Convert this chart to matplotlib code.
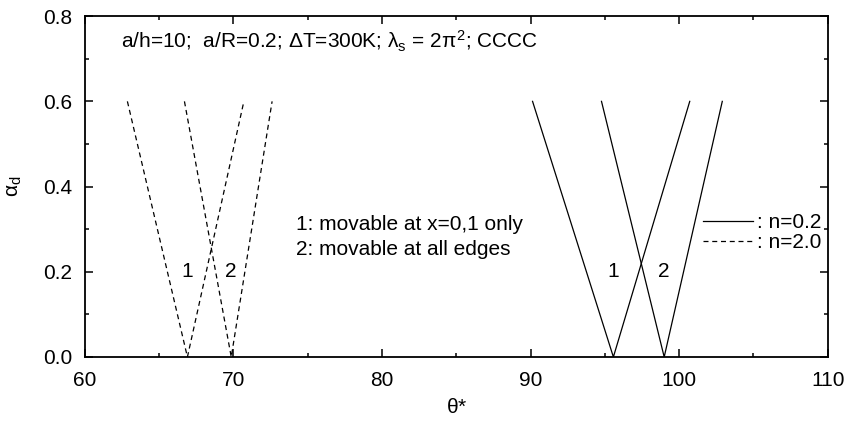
import numpy as np
import matplotlib
matplotlib.use('Agg')
import matplotlib.pyplot as plt
from matplotlib.ticker import MultipleLocator

plt.rcParams['font.family'] = ['Liberation Sans', 'DejaVu Sans']
plt.rcParams['mathtext.fontset'] = 'custom'
plt.rcParams['mathtext.rm'] = 'Liberation Sans'
plt.rcParams['mathtext.it'] = 'Liberation Sans'

# V-shaped curves: (theta at alpha=0.6, theta at alpha=0, theta at alpha=0.6)
alpha = [0.6, 0.0, 0.6]
n02_case1 = [90.13, 95.57, 100.71]
n02_case2 = [94.77, 98.99, 102.90]
n20_case1 = [62.86, 66.90, 70.70]
n20_case2 = [66.70, 69.85, 72.60]

fs = 15
fig = plt.figure(figsize=(8.49, 4.25), dpi=100)
ax = fig.add_axes([0.100, 0.160, 0.875, 0.802])

ax.plot(n02_case1, alpha, color='black', lw=0.9, label=': n=0.2')
ax.plot(n02_case2, alpha, color='black', lw=0.9)
ax.plot(n20_case1, alpha, color='black', lw=0.9, ls=(0, (4, 3)), label=': n=2.0')
ax.plot(n20_case2, alpha, color='black', lw=0.9, ls=(0, (4, 3)))

# curve numbers at the bottom of each V
for xs, lab in [(n20_case1, '1'), (n20_case2, '2'), (n02_case1, '1'), (n02_case2, '2')]:
    ax.text(xs[1], 0.2, lab, fontsize=fs, ha='center', va='center')

ax.text(62.4, 0.741, r'a/h=10;  a/R=0.2; $\Delta$T=300K; $\lambda_\mathrm{s}$ = 2$\pi^2$; CCCC',
        fontsize=fs, ha='left', va='center')
ax.text(74.2, 0.31, '1: movable at x=0,1 only', fontsize=fs, ha='left', va='center')
ax.text(74.2, 0.253, '2: movable at all edges', fontsize=fs, ha='left', va='center')

ax.legend(loc='upper right', bbox_to_anchor=(0.992, 0.422), frameon=False, fontsize=fs,
          handlelength=2.4, handletextpad=0.2, borderpad=0, borderaxespad=0, labelspacing=0.05)

ax.set_xlim(60, 110)
ax.set_ylim(0, 0.8)
ax.xaxis.set_major_locator(MultipleLocator(10))
ax.xaxis.set_minor_locator(MultipleLocator(5))
ax.yaxis.set_major_locator(MultipleLocator(0.2))
ax.yaxis.set_minor_locator(MultipleLocator(0.1))
ax.yaxis.set_major_formatter(plt.FormatStrFormatter('%.1f'))
ax.tick_params(which='both', direction='in', top=True, right=True, labelsize=fs, width=1.1)
ax.tick_params(which='major', length=6)
ax.tick_params(which='minor', length=3)
ax.tick_params(axis='x', pad=10)
ax.tick_params(axis='y', pad=9)
for s in ax.spines.values():
    s.set_linewidth(1.3)

ax.set_xlabel(r'$\theta$*', fontsize=fs, labelpad=6)
ax.set_ylabel(r'$\alpha_\mathrm{d}$', fontsize=fs, labelpad=14)

fig.savefig('out.png', dpi=100)
